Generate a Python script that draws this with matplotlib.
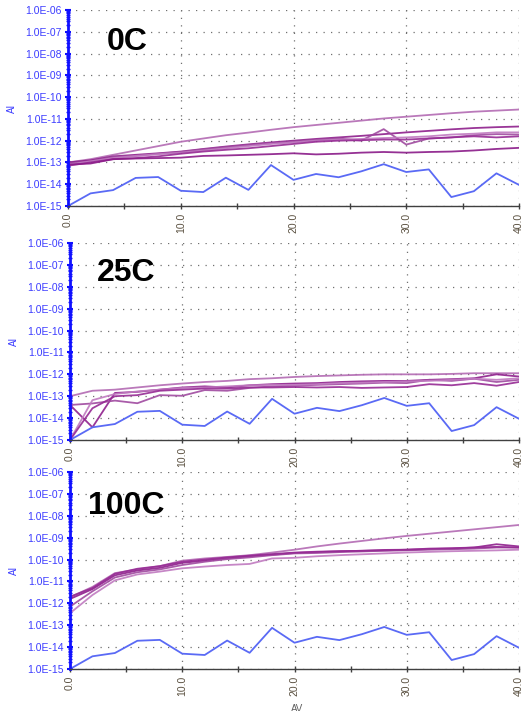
import numpy as np
import matplotlib
import matplotlib.pyplot as plt
from matplotlib.ticker import FixedLocator, FuncFormatter, LogLocator, NullFormatter

# Use a non-interactive backend
matplotlib.use('Agg')

plt.rcParams['font.family'] = ['Liberation Sans', 'DejaVu Sans']

# bias voltage (AV) sweep points
av = [0, 2, 4, 6, 8, 10, 12, 14, 16, 18, 20, 22, 24, 26, 28, 30, 32, 34, 36, 38, 40]

# reference (blue) trace, log10 of AI, same in all three panels
log_ref = [-15.0, -14.42, -14.27, -13.71, -13.67, -14.30, -14.36, -13.70, -14.26, -13.12, -13.80,
           -13.53, -13.68, -13.41, -13.08, -13.44, -13.32, -14.59, -14.32, -13.50, -14.03]

# 0C traces (log10 of AI)
log_0c = [
    [-13.0, -12.85, -12.65, -12.45, -12.25, -12.05, -11.9, -11.75, -11.63, -11.5, -11.38,
     -11.28, -11.18, -11.08, -10.98, -10.9, -10.82, -10.74, -10.67, -10.62, -10.57],
    [-13.0, -12.9, -12.72, -12.65, -12.58, -12.5, -12.38, -12.27, -12.17, -12.08, -12.0,
     -11.92, -11.85, -11.78, -11.7, -11.62, -11.55, -11.48, -11.42, -11.38, -11.35],
    [-13.05, -12.95, -12.75, -12.7, -12.6, -12.52, -12.4, -12.3, -12.2, -12.12, -12.05,
     -11.97, -11.9, -12.0, -11.47, -12.18, -11.9, -11.85, -11.75, -11.7, -11.72],
    [-13.1, -12.95, -12.8, -12.7, -12.62, -12.55, -12.45, -12.35, -12.25, -12.15, -12.08,
     -12.0, -11.95, -11.92, -11.88, -11.85, -11.8, -11.72, -11.68, -11.62, -11.62],
    [-13.15, -13.0, -12.85, -12.8, -12.72, -12.6, -12.5, -12.42, -12.35, -12.25, -12.15,
     -12.05, -12.0, -11.98, -11.95, -11.95, -11.9, -11.85, -11.8, -11.85, -11.8],
    [-13.1, -13.05, -12.85, -12.82, -12.8, -12.78, -12.7, -12.68, -12.65, -12.62, -12.58,
     -12.63, -12.6, -12.55, -12.52, -12.55, -12.52, -12.5, -12.45, -12.38, -12.33],
]

# 25C traces
log_25c = [
    [-13.0, -12.75, -12.7, -12.6, -12.5, -12.42, -12.35, -12.3, -12.22, -12.18, -12.12,
     -12.08, -12.05, -12.02, -12.0, -12.0, -12.0, -11.98, -11.95, -11.95, -11.95],
    [-13.4, -14.42, -12.85, -12.8, -12.7, -12.6, -12.55, -12.6, -12.5, -12.45, -12.42,
     -12.4, -12.35, -12.32, -12.3, -12.3, -12.25, -12.22, -12.18, -12.0, -12.1],
    [-13.4, -13.33, -13.2, -13.32, -12.95, -12.98, -12.72, -12.75, -12.62, -12.55, -12.52,
     -12.48, -12.45, -12.42, -12.38, -12.4, -12.25, -12.3, -12.2, -12.35, -12.25],
    [-15.0, -13.18, -12.9, -12.78, -12.7, -12.62, -12.6, -12.55, -12.5, -12.48, -12.48,
     -12.45, -12.4, -12.38, -12.35, -12.32, -12.3, -12.25, -12.2, -12.25, -12.18],
    [-15.0, -13.55, -13.0, -12.95, -12.75, -12.7, -12.65, -12.65, -12.6, -12.6, -12.58,
     -12.6, -12.58, -12.62, -12.6, -12.58, -12.45, -12.5, -12.4, -12.52, -12.35],
]

# 100C traces
log_100c = [
    [-11.72, -11.25, -10.62, -10.45, -10.3, -10.05, -9.95, -9.88, -9.8, -9.68, -9.55,
     -9.4, -9.27, -9.15, -9.03, -8.92, -8.82, -8.72, -8.62, -8.52, -8.42],
    [-11.8, -11.35, -10.72, -10.5, -10.38, -10.15, -10.05, -9.95, -9.85, -9.78, -9.7,
     -9.66, -9.62, -9.6, -9.58, -9.55, -9.52, -9.5, -9.45, -9.3, -9.4],
    [-12.15, -11.45, -10.82, -10.58, -10.45, -10.25, -10.1, -9.98, -9.9, -9.8, -9.72,
     -9.7, -9.66, -9.63, -9.6, -9.58, -9.55, -9.53, -9.5, -9.45, -9.45],
    [-12.45, -11.62, -10.95, -10.68, -10.55, -10.4, -10.32, -10.25, -10.2, -9.95, -9.92,
     -9.85, -9.8, -9.76, -9.72, -9.68, -9.65, -9.62, -9.6, -9.58, -9.55],
    [-11.7, -11.3, -10.65, -10.42, -10.3, -10.1, -10.0, -9.9, -9.82, -9.75, -9.68,
     -9.64, -9.62, -9.6, -9.56, -9.55, -9.5, -9.48, -9.45, -9.42, -9.45],
]

panel_titles = ['0C', '25C', '100C']
x_ticks = [0, 10, 20, 30, 40]
y_decades = [-15, -14, -13, -12, -11, -10, -9, -8, -7, -6]

purples = ['#b36ab3', '#8e1f8c', '#a04aa0', '#c07ac0', '#962a94', '#8a1a88']
BLUE_TXT = '#3c3cff'


def style_axis(ax):
    ax.set_yscale('log')
    ax.set_xlim(0, 40)
    ax.set_ylim(1e-15, 1e-6)
    for side in ('top', 'right'):
        ax.spines[side].set_visible(False)
    ax.spines['left'].set_color('#1010ff')
    ax.spines['left'].set_linewidth(2.0)
    ax.spines['bottom'].set_color('#404040')
    ax.spines['bottom'].set_linewidth(1.0)

    ax.yaxis.set_major_locator(FixedLocator([10.0 ** d for d in y_decades]))
    ax.yaxis.set_major_formatter(FuncFormatter(lambda v, p: '1.0E-%02d' % round(-np.log10(v))))
    ax.yaxis.set_minor_locator(LogLocator(base=10, subs=np.arange(2, 10), numticks=20))
    ax.yaxis.set_minor_formatter(NullFormatter())
    ax.tick_params(axis='y', which='major', direction='inout', length=5, width=1.5,
                   color='#1010ff', labelcolor=BLUE_TXT, labelsize=7.5, pad=2)
    ax.tick_params(axis='y', which='minor', direction='inout', length=3, width=1, color='#1010ff')

    ax.xaxis.set_major_locator(FixedLocator(x_ticks))
    ax.xaxis.set_minor_locator(FixedLocator([5, 15, 25, 35]))
    ax.xaxis.set_major_formatter(FuncFormatter(lambda v, p: '%.1f' % v))
    ax.tick_params(axis='x', which='both', direction='inout', length=4, width=1, color='#404040',
                   labelcolor='#5a5040', labelsize=7.5, labelrotation=90, pad=3)

    ax.grid(True, which='major', axis='both', color='#707070', linewidth=0.9,
            linestyle=(0, (1, 5)))
    ax.set_axisbelow(True)
    ax.set_ylabel('AI', color=BLUE_TXT, fontsize=7, labelpad=6)


fig = plt.figure(figsize=(5.22, 7.11), dpi=100)
positions = [
    [68 / 522, 1 - 206 / 711, 451 / 522, 196 / 711],
    [70 / 522, 1 - 440 / 711, 449 / 522, 197 / 711],
    [70 / 522, 1 - 669 / 711, 449 / 522, 197 / 711],
]
title_xy = [(0.087, 0.835), (0.06, 0.848), (0.04, 0.828)]

for pos, title, txy, traces in zip(positions, panel_titles, title_xy,
                                     [log_0c, log_25c, log_100c]):
    ax = fig.add_axes(pos)
    style_axis(ax)
    for i, tr in enumerate(traces):
        ax.plot(av, 10.0 ** np.array(tr), color=purples[i % len(purples)], linewidth=1.3,
                alpha=0.9, clip_on=True)
    ax.plot(av, 10.0 ** np.array(log_ref), color='#5a6af5', linewidth=1.3)
    ax.text(txy[0], txy[1], title, transform=ax.transAxes, fontsize=23,
            fontweight='bold', color='black', va='center', ha='left')

fig.text(297 / 522, 1 - 704 / 711, 'AV', color='#606060', fontsize=7, ha='center', va='top')

fig.savefig('out.png', dpi=100)
plt.close(fig)
